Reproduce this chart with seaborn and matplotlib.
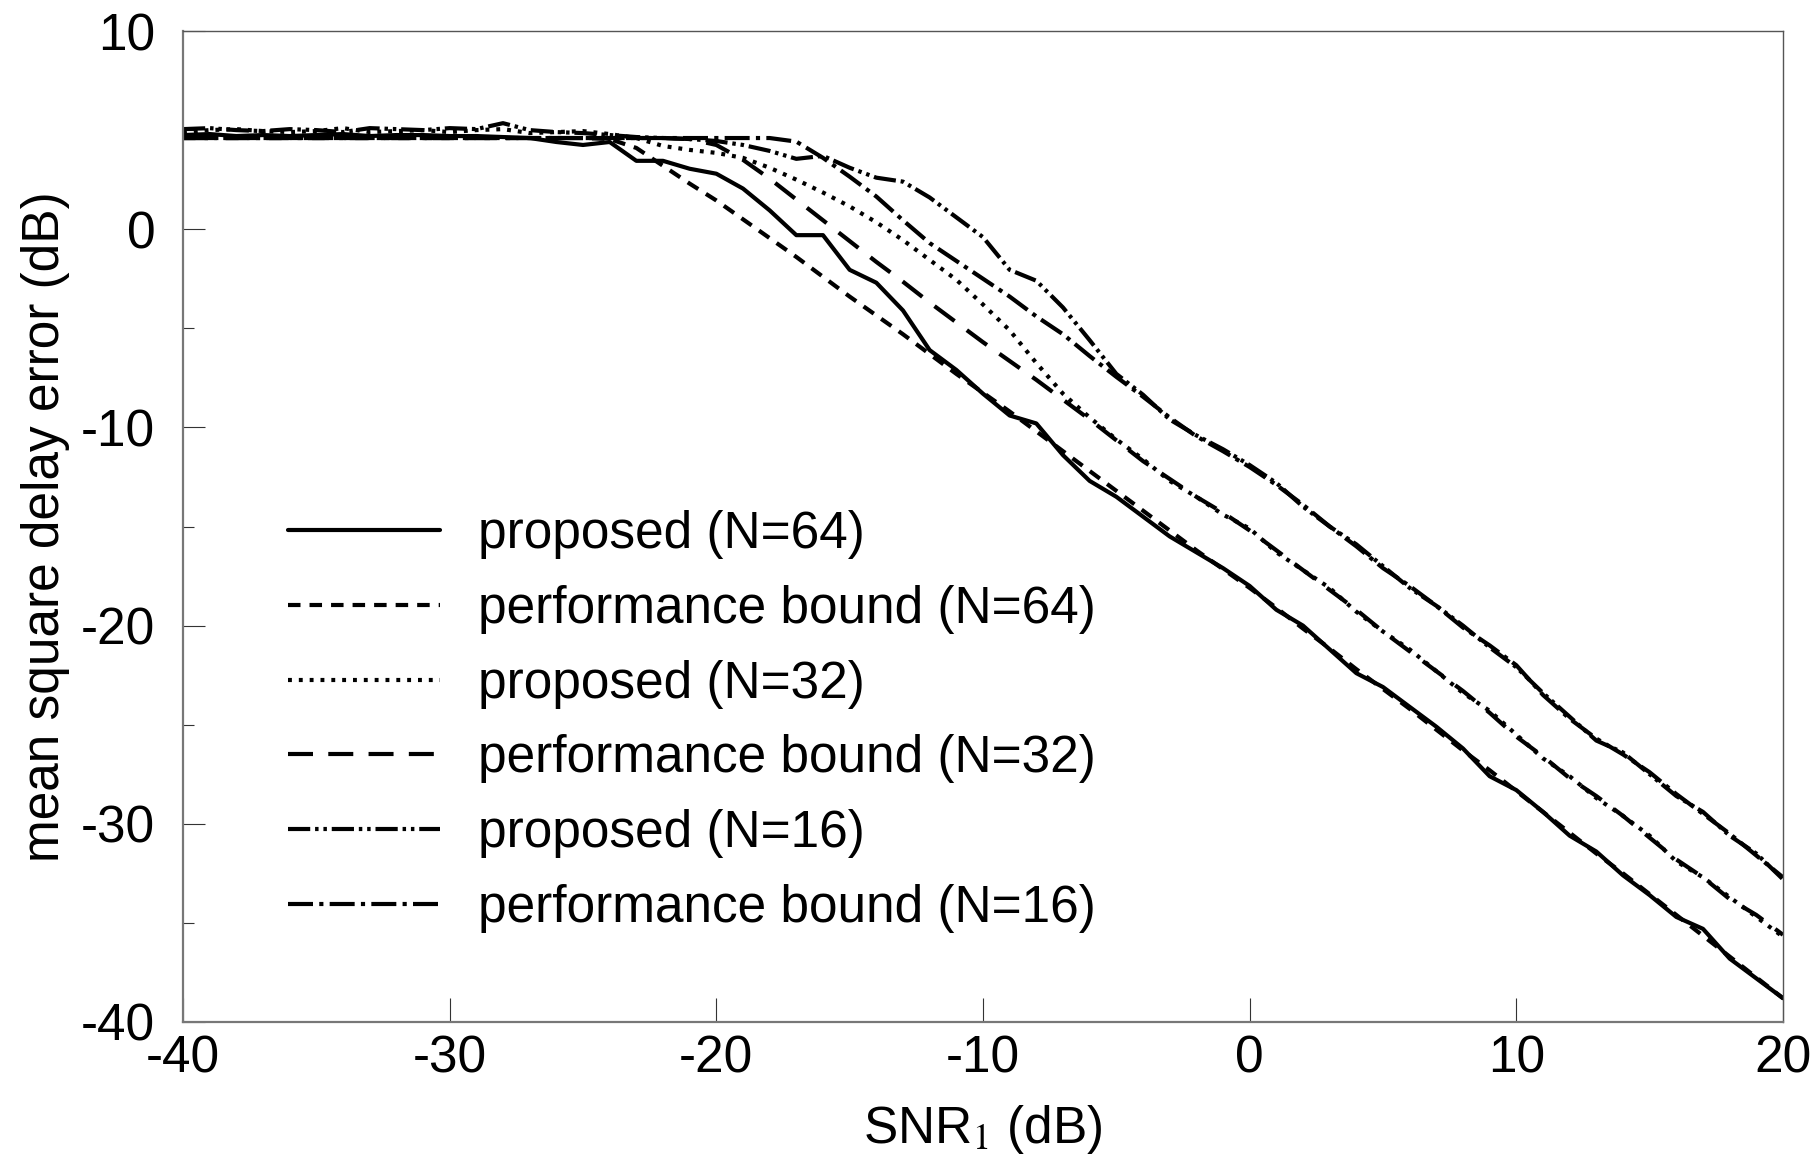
import numpy as np
import matplotlib
matplotlib.use("Agg")
import matplotlib.pyplot as plt
import seaborn as sns

# =========================
# Data
# =========================
snr = list(range(-40, 21))  # SNR_1 in dB, 1 dB steps

flat = [4.6] * 16  # -40 .. -25

p64 = [4.75, 4.8, 4.7, 4.75, 4.7, 4.75, 4.8, 4.7, 4.75, 4.75, 4.7, 4.7, 4.65, 4.6, 4.4, 4.25,
       4.4, 3.45, 3.45, 3.05, 2.8, 2.05, 0.95, -0.3, -0.3, -2.05, -2.7, -4.1, -6.1, -7.1,
       -8.3, -9.4, -9.8, -11.4, -12.7, -13.5, -14.5, -15.5, -16.3, -17.1, -18.0,
       -19.2, -20.0, -21.2, -22.4, -23.1, -24.1, -25.1, -26.2, -27.6, -28.3,
       -29.4, -30.6, -31.4, -32.6, -33.6, -34.7, -35.3, -36.8, -37.8, -38.8]

b64 = flat + [4.55, 4.1, 3.2, 2.3, 1.45, 0.5, -0.45, -1.4, -2.4, -3.4, -4.35, -5.3, -6.3, -7.3,
              -8.25, -9.2, -10.2, -11.2, -12.2, -13.2, -14.2, -15.2, -16.2, -17.15, -18.1,
              -19.1, -20.15, -21.15, -22.2, -23.2, -24.2, -25.25, -26.3, -27.3, -28.35,
              -29.4, -30.45, -31.5, -32.5, -33.55, -34.6, -35.65, -36.7, -37.75, -38.8]

p32 = [4.9, 5.0, 5.05, 4.95, 4.9, 4.95, 5.1, 4.9, 4.95, 5.0, 4.9, 5.0, 5.05, 4.85, 4.9, 4.95,
       4.8, 4.6, 4.2, 4.0, 3.85, 3.6, 3.1, 2.5, 1.85, 1.15, 0.35, -0.55, -1.55, -2.55,
       -3.8, -5.1, -6.75, -8.3, -9.5, -10.6, -11.6, -12.7, -13.5, -14.4, -15.1,
       -16.3, -17.2, -18.1, -19.3, -20.3, -21.2, -22.3, -23.4, -24.3, -25.5,
       -26.7, -27.6, -28.7, -29.6, -30.6, -31.9, -32.7, -33.7, -34.7, -35.7]

b32 = [4.6] * 19 + [4.55, 4.25, 3.5, 2.55, 1.5, 0.45, -0.6, -1.65, -2.65, -3.7, -4.7,
                    -5.7, -6.65, -7.6, -8.6, -9.6, -10.65, -11.7, -12.6, -13.5, -14.3, -15.2,
                    -16.2, -17.2, -18.2, -19.2, -20.3, -21.3, -22.3, -23.3, -24.4, -25.6,
                    -26.6, -27.7, -28.6, -29.6, -30.7, -31.8, -32.7, -33.8, -34.6, -35.6]

p16 = [5.05, 5.1, 5.0, 4.95, 5.05, 5.0, 4.9, 5.1, 5.05, 5.0, 5.1, 5.05, 5.35, 5.0, 4.9, 4.85,
       4.75, 4.65, 4.6, 4.55, 4.45, 4.25, 3.95, 3.55, 3.7, 3.1, 2.6, 2.4, 1.6, 0.6,
       -0.4, -2.05, -2.6, -3.95, -5.6, -7.3, -8.35, -9.6, -10.4, -11.1, -11.9,
       -12.8, -14.0, -15.0, -15.9, -17.0, -18.1, -19.0, -20.0, -21.1, -22.1,
       -23.4, -24.6, -25.8, -26.4, -27.5, -28.6, -29.4, -30.6, -31.5, -32.8]

b16 = [4.6] * 23 + [4.42, 3.6, 2.65, 1.65, 0.45, -0.7, -1.6, -2.5, -3.4, -4.4, -5.3, -6.4,
                    -7.45, -8.45, -9.5, -10.45, -11.2, -12.0,
                    -12.9, -13.9, -15.0, -16.0, -17.1, -18.0, -19.0, -20.1, -21.0, -22.0,
                    -23.5, -24.7, -25.7, -26.5, -27.4, -28.5, -29.5, -30.5, -31.6, -32.7]

labels = ["proposed (N=64)", "performance bound (N=64)",
          "proposed (N=32)", "performance bound (N=32)",
          "proposed (N=16)", "performance bound (N=16)"]
series = [p64, b64, p32, b32, p16, b16]

# line styles (dash patterns in points)
styles = ["-",
          (0, (9, 6.5)),
          (0, (2.8, 5)),
          (0, (18, 11)),
          (0, (16, 3.5, 2.5, 3.5, 2.5, 3.5)),
          (0, (18, 4.5, 3, 4.5))]

# =========================
# Figure
# =========================
sns.set_theme(style="white")
plt.rcParams["font.family"] = ["Liberation Sans", "DejaVu Sans"]
plt.rcParams["mathtext.fontset"] = "stix"
plt.rcParams["lines.scale_dashes"] = False
plt.rcParams["axes.unicode_minus"] = False
plt.rcParams["text.color"] = "black"
plt.rcParams["axes.labelcolor"] = "black"
plt.rcParams["xtick.color"] = "black"
plt.rcParams["ytick.color"] = "black"

fig = plt.figure(figsize=(18.19, 11.70), dpi=100)
ax = fig.add_axes([0.1006, 0.1265, 0.8796, 0.847])

for vals, lbl, ls in zip(series, labels, styles):
    sns.lineplot(x=snr, y=vals, ax=ax, color="black", linewidth=3,
                 linestyle=ls, label=lbl, estimator=None, errorbar=None)

ax.set_xlim(-40, 20)
ax.set_ylim(-40, 10)
ax.set_xticks(np.arange(-40, 21, 10))
ax.set_yticks(np.arange(-40, 11, 10))
ax.set_yticks(np.arange(-35, 10, 10), minor=True)

ax.tick_params(axis="x", which="major", direction="in", length=17, width=0.8,
               color="#333333", labelcolor="black", labelsize=37, pad=9, bottom=True)
ax.tick_params(axis="y", which="major", direction="in", length=16, width=0.8,
               color="#333333", labelcolor="black", labelsize=37, pad=20, left=True)
ax.tick_params(axis="y", which="minor", direction="in", length=8, width=0.8,
               color="#333333", left=True)

for side in ["left", "bottom"]:
    ax.spines[side].set_color("#777777")
    ax.spines[side].set_linewidth(1.6)
for side in ["top", "right"]:
    ax.spines[side].set_color("#555555")
    ax.spines[side].set_linewidth(1.0)

ax.set_xlabel("SNR$_1$ (dB)", fontsize=37, labelpad=14, color="black")
ax.set_ylabel("mean square delay error (dB)", fontsize=37, labelpad=8, color="black")

leg = ax.legend(loc="upper left", bbox_to_anchor=(0.1583, 0.564),
                bbox_transform=fig.transFigure, frameon=False, fontsize=37,
                handlelength=2.95, handletextpad=0.74, labelspacing=0.5,
                borderpad=0, borderaxespad=0)
for t in leg.get_texts():
    t.set_color("black")

fig.savefig("out.png", dpi=100)
